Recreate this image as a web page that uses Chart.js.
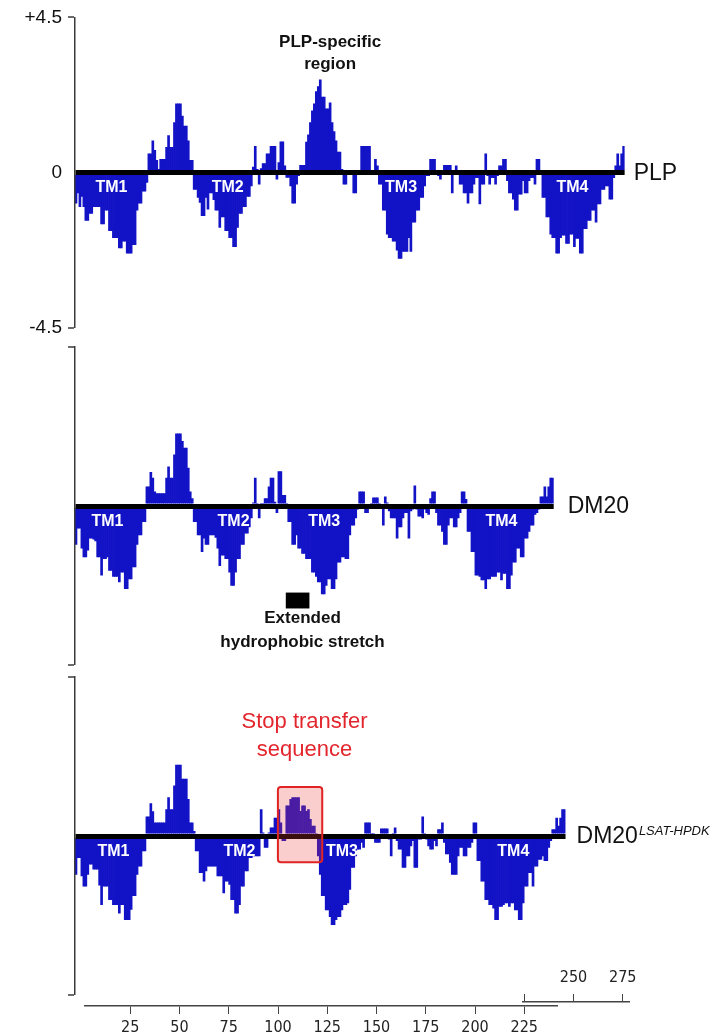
<!DOCTYPE html>
<html>
<head>
<meta charset="utf-8">
<title>PLP / DM20 hydropathy</title>
<script src="https://cdn.jsdelivr.net/npm/chart.js@4.4.1/dist/chart.umd.min.js"></script>
<style>
  html, body { margin: 0; padding: 0; background: #fff; }
  #page { position: relative; width: 718px; height: 1035px; overflow: hidden; }
  canvas { position: absolute; left: 0; }
</style>
</head>
<body>
<div id="page">
  <canvas id="plpChart" width="718" height="345" style="top:0;width:718px;height:345px"></canvas>
  <canvas id="dm20Chart" width="718" height="330" style="top:340px;width:718px;height:330px"></canvas>
  <canvas id="mutChart" width="718" height="330" style="top:670px;width:718px;height:330px"></canvas>
  <canvas id="shortAxis" width="718" height="40" style="top:970px;width:718px;height:40px"></canvas>
  <canvas id="mainAxis" width="718" height="39" style="top:996px;width:718px;height:39px"></canvas>
</div>
<script>
// DATA (hydropathy value per residue)
const yTickValues = [-4.5, 0, 4.5];
const yTickLabels = ['-4.5', '0', '+4.5'];
const mainAxisTicks = [25, 50, 75, 100, 125, 150, 175, 200, 225];
const shortAxisTicks = [225, 250, 275];
const shortAxisLabels = ['', '250', '275'];

const plpValues = [
  -0.9, -0.6, -1.0, -0.7, -1.0, -1.4, -1.4, -1.2, -1.2, -1.0,
  -1.0, -1.0, -1.0, -1.5, -1.5, -1.1, -1.1, -1.7, -1.7, -1.9,
  -1.9, -1.9, -2.2, -2.2, -2.0, -2.0, -2.35, -2.35, -2.35, -2.1,
  -2.1, -1.1, -0.9, -0.9, -0.55, -0.55, -0.3, 0.55, 0.55, 0.93,
  0.65, 0.36, 0.1, 0.39, 0.39, 0.39, 0.74, 1.08, 0.74, 0.74,
  1.46, 2.0, 2.0, 2.0, 1.65, 1.36, 1.36, 0.93, 0.36, 0.36,
  -0.5, -0.5, -0.73, -0.88, -1.26, -1.26, -0.73, -1.07, -0.6, -0.6,
  -0.8, -1.1, -1.1, -1.6, -1.3, -1.3, -1.7, -1.7, -1.9, -1.9,
  -2.16, -2.16, -1.6, -1.2, -1.2, -1.0, -1.0, -0.7, -0.7, -0.4,
  0.17, 0.77, 0.1, -0.35, 0.12, 0.27, 0.27, 0.55, 0.55, 0.77,
  0.77, 0.77, -0.2, 0.3, 0.9, 0.9, 0.2, -0.15, -0.15, -0.4,
  -0.9, -0.9, -0.35, -0.1, 0.22, 0.22, 0.22, 0.89, 1.1, 1.46,
  1.8, 2.0, 2.36, 2.5, 2.7, 2.2, 2.2, 1.86, 1.86, 2.03,
  1.46, 1.2, 0.93, 0.6, 0.6, 0.1, -0.35, -0.35, -0.05, 0.05,
  0.05, -0.6, -0.6, 0.05, 0.05, 0.77, 0.77, 0.77, 0.77, 0.77,
  0.05, 0.05, 0.39, 0.2, -0.35, -0.35, -1.1, -1.1, -1.8, -1.9,
  -1.9, -2.0, -2.0, -2.26, -2.5, -2.5, -2.3, -2.3, -2.3, -1.9,
  -2.3, -1.45, -1.45, -1.1, -1.1, -0.73, -0.73, -0.4, -0.1, -0.1,
  0.39, 0.39, 0.39, 0.02, -0.1, -0.2, -0.05, 0.22, 0.22, 0.22,
  0.22, -0.6, -0.05, 0.2, 0.02, -0.35, -0.35, -0.6, -0.6, -0.9,
  -0.6, -0.6, -0.35, -0.16, -0.16, -0.92, -0.35, -0.35, 0.55, -0.1,
  -0.35, -0.16, -0.16, -0.35, -0.1, 0.2, 0.2, 0.39, 0.39, -0.25,
  -0.6, -0.6, -0.78, -1.1, -1.1, -0.64, -0.64, -0.25, -0.6, -0.6,
  -0.25, -0.16, -0.16, -0.35, 0.39, 0.39, 0.02, -0.73, -0.73, -1.3,
  -1.3, -1.8, -1.9, -1.9, -2.35, -2.35, -1.9, -1.83, -1.83, -2.07,
  -2.07, -1.8, -1.8, -2.16, -1.92, -1.92, -2.35, -2.35, -1.64, -1.64,
  -1.4, -1.4, -1.1, -1.1, -1.45, -0.92, -0.92, -0.5, -0.5, -0.4,
  -0.4, -0.78, -0.78, -0.16, 0.2, 0.55, 0.2, 0.55, 0.77
];

const dm20Values = [
  -1.1, -0.64, -0.64, -1.2, -1.45, -1.45, -1.26, -0.92, -0.92, -0.95,
  -1.0, -1.45, -1.45, -1.97, -1.5, -1.5, -1.45, -1.83, -1.83, -2.0,
  -2.0, -2.0, -2.16, -1.88, -1.88, -2.35, -2.35, -2.07, -2.07, -1.73,
  -1.73, -1.1, -0.83, -0.83, -0.45, -0.45, 0.55, 0.55, 0.96, 0.8,
  0.41, 0.36, 0.36, 0.36, 0.36, 0.36, 0.8, 1.12, 0.8, 0.8,
  1.46, 2.05, 2.05, 2.05, 1.84, 1.65, 1.65, 1.08, 0.41, 0.22,
  -0.45, -0.45, -0.83, -0.83, -1.3, -0.92, -1.1, -1.1, -0.83, -0.83,
  -0.83, -0.9, -1.2, -1.7, -1.4, -1.4, -1.5, -1.5, -1.88, -2.26,
  -2.26, -1.88, -1.5, -1.5, -1.1, -1.1, -0.78, -0.78, -0.6, -0.35,
  0.1, 0.8, 0.05, -0.35, 0.02, 0.05, 0.22, 0.22, 0.55, 0.8,
  0.8, 0.12, -0.2, 0.98, 0.98, 0.31, 0.31, 0.02, -0.45, -0.45,
  -1.1, -1.1, -0.83, -1.2, -1.2, -1.35, -1.35, -1.5, -1.5, -1.5,
  -1.88, -1.88, -2.0, -2.16, -2.16, -2.5, -2.5, -2.26, -2.07, -2.07,
  -2.35, -2.35, -2.07, -1.6, -1.6, -1.45, -1.45, -1.5, -1.5, -0.83,
  -0.55, -0.55, -0.35, -0.1, 0.41, 0.41, 0.41, -0.2, -0.2, -0.05,
  0.02, 0.24, 0.24, 0.24, 0.05, -0.05, -0.55, 0.27, 0.1, -0.15,
  -0.35, -0.35, -0.35, -0.92, -0.6, -0.6, -0.35, -0.2, -0.2, -0.92,
  -0.15, -0.1, 0.58, -0.1, -0.3, -0.3, -0.35, -0.1, -0.2, -0.25,
  0.22, 0.41, 0.41, -0.2, -0.55, -0.55, -0.73, -1.1, -1.1, -0.55,
  -0.35, -0.35, -0.6, -0.6, -0.35, -0.2, 0.41, 0.41, 0.2, -0.73,
  -0.73, -1.3, -1.3, -1.97, -1.97, -2.0, -2.1, -2.1, -2.35, -2.07,
  -2.07, -2.0, -2.0, -2.0, -1.88, -1.88, -2.1, -1.92, -1.92, -2.35,
  -2.35, -1.97, -1.6, -1.6, -1.2, -1.2, -1.45, -1.45, -0.92, -0.92,
  -0.73, -0.55, -0.55, -0.25, -0.2, -0.1, 0.27, 0.27, 0.55, 0.27,
  0.55, 0.8, 0.8
];

const mutValues = [
  -1.1, -0.62, -0.62, -1.14, -1.43, -1.43, -1.1, -0.81, -0.81, -0.95,
  -0.95, -0.95, -1.4, -1.95, -1.43, -1.43, -1.43, -1.81, -1.81, -1.95,
  -1.95, -1.95, -2.19, -1.95, -1.95, -2.38, -2.38, -2.38, -2.09, -1.7,
  -1.7, -1.1, -0.86, -0.86, -0.43, -0.43, 0.55, 0.55, 0.93, 0.7,
  0.38, 0.38, 0.38, 0.38, 0.38, 0.38, 0.76, 1.1, 0.76, 0.76,
  1.43, 2.02, 2.02, 2.02, 1.62, 1.62, 1.62, 1.05, 0.38, 0.38,
  0.14, -0.43, -0.43, -1.05, -1.05, -1.29, -1.0, -0.86, -0.86, -0.86,
  -0.86, -0.86, -1.14, -1.14, -1.14, -1.62, -1.29, -1.29, -1.38, -1.81,
  -1.81, -2.19, -2.19, -1.95, -1.43, -1.43, -1.0, -1.0, -0.62, -0.62,
  -0.57, -0.57, -0.57, -0.57, 0.76, 0.1, -0.33, -0.33, 0.1, 0.24,
  0.24, 0.52, 0.52, 0.76, 0.38, -0.14, -0.14, 0.86, 0.86, 1.05,
  1.1, 1.1, 1.1, 1.1, 0.71, 0.86, 0.86, 0.71, 0.76, 0.48,
  0.29, 0.29, 0.05, -0.57, -1.1, -1.7, -1.7, -2.1, -2.1, -2.29,
  -2.52, -2.52, -2.38, -2.29, -2.29, -2.1, -1.95, -1.95, -1.9, -1.52,
  -0.9, -0.9, -0.57, -0.38, -0.38, -0.19, -0.33, 0.38, 0.38, 0.38,
  0.05, 0.02, -0.19, -0.19, -0.19, 0.21, 0.21, 0.21, 0.21, -0.1,
  -0.57, 0.02, 0.24, -0.14, -0.38, -0.38, -0.9, -0.9, -0.57, -0.57,
  -0.29, -0.14, -0.9, -0.9, -0.1, -0.1, 0.55, 0.02, -0.1, -0.29,
  -0.38, -0.38, -0.14, -0.29, 0.19, 0.19, 0.38, -0.19, -0.52, -0.52,
  -0.76, -1.1, -1.1, -1.1, -0.57, -0.33, -0.33, -0.57, -0.57, -0.33,
  -0.33, -0.19, 0.38, 0.38, -0.71, -0.71, -1.29, -1.29, -1.81, -1.81,
  -1.95, -1.95, -2.05, -2.38, -2.38, -2.0, -2.0, -1.95, -1.9, -1.9,
  -2.0, -1.9, -1.9, -2.1, -2.1, -2.38, -2.38, -1.9, -1.43, -1.43,
  -1.05, -1.05, -1.43, -0.86, -0.86, -0.67, -0.67, -0.57, -0.71, -0.71,
  -0.33, -0.14, 0.19, 0.19, 0.52, 0.29, 0.52, 0.76, 0.76
];

// LAYOUT
const PX_PER_RES = 1.97;   // width of one residue bar
const PANEL_LEFT = 75;     // x of the y-axis bracket
const RULER_ZERO = 81;     // x where residue 0 falls on the bottom ruler
const BLUE = '#1212c6';
const SANS = "'Liberation Sans', Arial, sans-serif";
const NARROW = "'Liberation Sans Narrow', 'DejaVu Sans Condensed', 'Arial Narrow', sans-serif";

// draws text labels, boxes and the name at the end of the zero line
const notesPlugin = {
    id: 'notes',
    afterDraw(chart, args, opts) {
        const { ctx, chartArea, scales } = chart;
        const x = scales.x, y = scales.y;
        ctx.save();
        (opts.rects || []).forEach(r => {
            const x1 = x.getPixelForValue(r.from - 0.5);
            const x2 = x.getPixelForValue(r.to - 0.5);
            const y1 = y.getPixelForValue(r.top);
            const y2 = y.getPixelForValue(r.bottom);
            ctx.beginPath();
            if (ctx.roundRect) ctx.roundRect(x1, y1, x2 - x1, y2 - y1, r.radius || 0);
            else ctx.rect(x1, y1, x2 - x1, y2 - y1);
            ctx.fillStyle = r.fill;
            ctx.fill();
            if (r.stroke) {
                ctx.lineWidth = 2;
                ctx.strokeStyle = r.stroke;
                ctx.stroke();
            }
        });
        ctx.textAlign = 'center';
        ctx.textBaseline = 'middle';
        (opts.texts || []).forEach(t => {
            ctx.font = t.font;
            ctx.fillStyle = t.color;
            ctx.fillText(t.text, x.getPixelForValue(t.at), y.getPixelForValue(t.v));
        });
        if (opts.name) {
            const n = opts.name;
            const nx = chartArea.right + n.gap;
            const ny = y.getPixelForValue(0) + 1;
            ctx.textAlign = 'left';
            ctx.textBaseline = 'middle';
            ctx.font = `23px ${SANS}`;
            ctx.fillStyle = '#111';
            ctx.fillText(n.text, nx, ny);
            if (n.sup) {
                const w = ctx.measureText(n.text).width;
                ctx.font = `italic 13px ${SANS}`;
                ctx.fillText(n.sup, nx + w + 1, ny - 6);
            }
        }
        ctx.restore();
    }
};

function yScale(showLabels) {
    return {
        min: -4.5,
        max: 4.5,
        afterBuildTicks: a => { a.ticks = yTickValues.map(v => ({ value: v })); },
        afterFit: s => { s.width = PANEL_LEFT; },
        // border on the same layer as the grid, so it is drawn after the grid items exist
        border: { display: true, color: '#3a3a3a', width: 1.5, z: 1 },
        grid: {
            z: 1,
            color: c => (c.tick && c.tick.value === 0) ? '#000' : 'rgba(0,0,0,0)',
            lineWidth: c => (c.tick && c.tick.value === 0) ? 5 : 0,
            tickColor: c => (c.tick && c.tick.value === 0) ? 'rgba(0,0,0,0)' : '#3a3a3a',
            tickWidth: 1.5,
            tickLength: 7,
            drawTicks: true
        },
        ticks: {
            display: showLabels,
            padding: 6,
            color: '#111',
            font: { family: SANS, size: 19 },
            callback: v => yTickLabels[yTickValues.indexOf(v)]
        }
    };
}

function panelChart(id, values, padTop, padBottom, showLabels, notes) {
    const right = PANEL_LEFT + values.length * PX_PER_RES;
    return new Chart(document.getElementById(id), {
        type: 'bar',
        data: {
            labels: values.map((v, i) => i + 1),
            datasets: [{
                data: values,
                backgroundColor: BLUE,
                borderWidth: 0,
                barPercentage: 1.35,
                categoryPercentage: 1
            }]
        },
        options: {
            responsive: false,
            animation: false,
            events: [],
            layout: { padding: { left: 0, right: 718 - right, top: padTop, bottom: padBottom } },
            plugins: { legend: { display: false }, tooltip: { enabled: false }, notes: notes },
            scales: { x: { display: false }, y: yScale(showLabels) }
        },
        plugins: [notesPlugin]
    });
}

const tmFont = `bold 16px ${SANS}`;
const noteFont = `bold 17px ${SANS}`;
const redFont = `22px ${SANS}`;

panelChart('plpChart', plpValues, 17, 12, true, {
    texts: [
        { text: 'TM1', at: 18, v: -0.45, font: tmFont, color: '#fff' },
        { text: 'TM2', at: 77, v: -0.45, font: tmFont, color: '#fff' },
        { text: 'TM3', at: 165, v: -0.45, font: tmFont, color: '#fff' },
        { text: 'TM4', at: 252, v: -0.45, font: tmFont, color: '#fff' },
        { text: 'PLP-specific', at: 129, v: 3.79, font: noteFont, color: '#111' },
        { text: 'region', at: 129, v: 3.13, font: noteFont, color: '#111' }
    ],
    name: { text: 'PLP', gap: 9 }
});

panelChart('dm20Chart', dm20Values, 7, 5, false, {
    rects: [{ from: 107, to: 119, top: -2.45, bottom: -2.9, fill: '#000' }],
    texts: [
        { text: 'TM1', at: 16, v: -0.45, font: tmFont, color: '#fff' },
        { text: 'TM2', at: 80, v: -0.45, font: tmFont, color: '#fff' },
        { text: 'TM3', at: 126, v: -0.45, font: tmFont, color: '#fff' },
        { text: 'TM4', at: 216, v: -0.45, font: tmFont, color: '#fff' },
        { text: 'Extended', at: 115, v: -3.17, font: noteFont, color: '#111' },
        { text: 'hydrophobic stretch', at: 115, v: -3.85, font: noteFont, color: '#111' }
    ],
    name: { text: 'DM20', gap: 14 }
});

panelChart('mutChart', mutValues, 7, 5, false, {
    rects: [{ from: 103, to: 125.5, top: 1.39, bottom: -0.74, fill: 'rgba(240,60,60,0.25)', stroke: '#e02424', radius: 3 }],
    texts: [
        { text: 'TM1', at: 19, v: -0.45, font: tmFont, color: '#fff' },
        { text: 'TM2', at: 83, v: -0.45, font: tmFont, color: '#fff' },
        { text: 'TM3', at: 135, v: -0.45, font: tmFont, color: '#fff' },
        { text: 'TM4', at: 222, v: -0.45, font: tmFont, color: '#fff' },
        { text: 'Stop transfer', at: 116, v: 3.23, font: redFont, color: '#e3262d' },
        { text: 'sequence', at: 116, v: 2.44, font: redFont, color: '#e3262d' }
    ],
    name: { text: 'DM20', gap: 11, sup: 'LSAT-HPDK' }
});

// RULERS
function rulerChart(id, min, max, position, height, ticks, labels, padding) {
    const left = RULER_ZERO + min * PX_PER_RES;
    const right = RULER_ZERO + max * PX_PER_RES;
    return new Chart(document.getElementById(id), {
        type: 'scatter',
        data: { datasets: [] },
        options: {
            responsive: false,
            animation: false,
            events: [],
            layout: { padding: { left: left, right: 718 - right, top: 0, bottom: 0 } },
            plugins: { legend: { display: false }, tooltip: { enabled: false } },
            scales: {
                x: {
                    type: 'linear',
                    position: position,
                    min: min,
                    max: max,
                    afterBuildTicks: a => { a.ticks = ticks.map(v => ({ value: v })); },
                    afterFit: s => { s.height = height; },
                    border: { display: true, color: '#444', width: 1.5 },
                    grid: { drawOnChartArea: false, drawTicks: true, tickLength: 8, tickColor: '#444', tickWidth: 1 },
                    ticks: {
                        padding: padding,
                        maxRotation: 0,
                        autoSkip: false,
                        color: '#222',
                        font: { family: NARROW, size: 16 },
                        callback: v => labels[ticks.indexOf(v)]
                    }
                },
                y: { display: false, min: 0, max: 1 }
            }
        }
    });
}

rulerChart('mainAxis', 2, 242, 'bottom', 29, mainAxisTicks, mainAxisTicks.map(String), 4);
rulerChart('shortAxis', 224, 278.3, 'top', 32, shortAxisTicks, shortAxisLabels, 7);
</script>
</body>
</html>
